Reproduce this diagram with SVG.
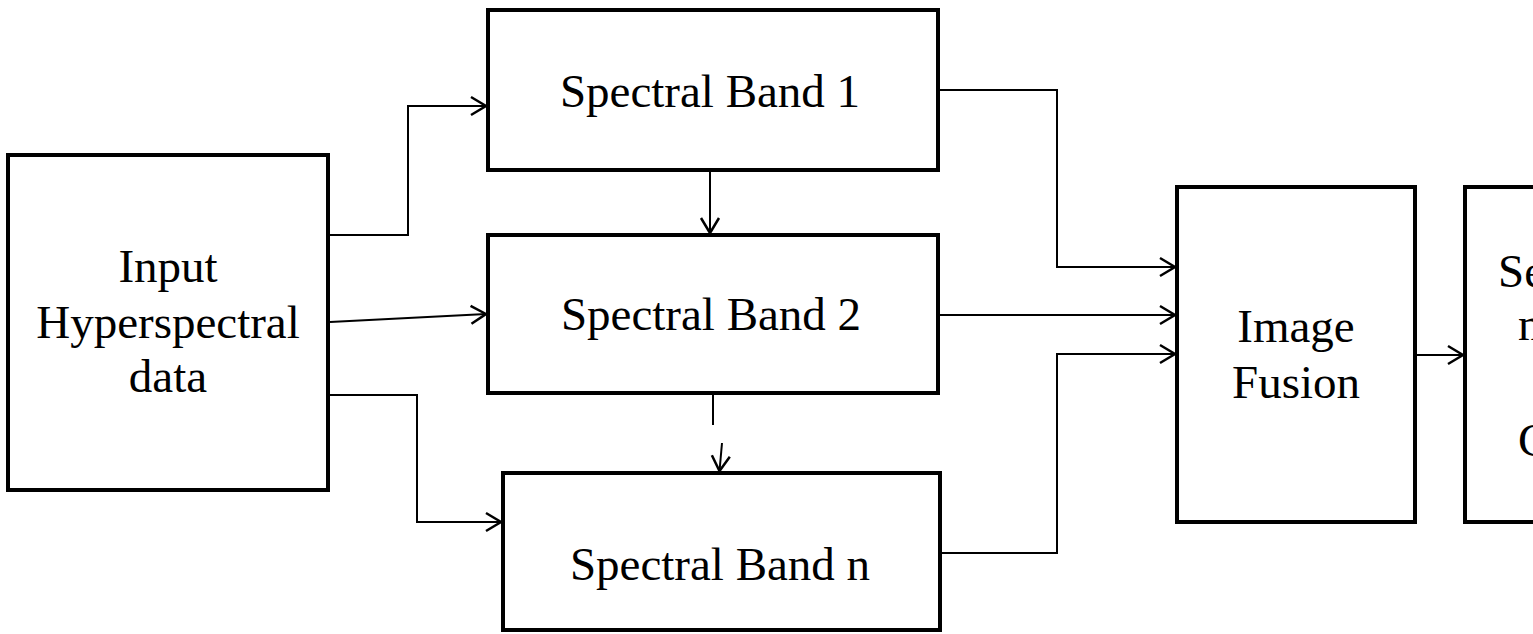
<svg xmlns="http://www.w3.org/2000/svg" width="1533" height="634" viewBox="0 0 1533 634">
<style>
.box{fill:#fff;stroke:#000;stroke-width:4;stroke-linejoin:miter}
.lbl{font-family:"Liberation Serif","Times New Roman",serif;font-size:47px;fill:#000;text-anchor:middle}
.c{fill:none;stroke:#000;stroke-width:2}
</style>
<defs>
<marker id="arr" viewBox="-17 -12 20 24" refX="0" refY="0" markerWidth="20" markerHeight="24" orient="auto" markerUnits="userSpaceOnUse">
<path d="M-15,-9 L0,0 L-15,9" fill="none" stroke="#000" stroke-width="2.5"/>
</marker>
</defs>
<rect width="1533" height="634" fill="#fff"/>
<g id="connectors">
<polyline class="c" points="330,235 408,235 408,106 486,106" marker-end="url(#arr)"/>
<line class="c" x1="330" y1="322" x2="486" y2="314" marker-end="url(#arr)"/>
<polyline class="c" points="330,395 417,395 417,522 501,522" marker-end="url(#arr)"/>
<line class="c" x1="710" y1="172" x2="710" y2="233" marker-end="url(#arr)"/>
<line class="c" x1="713" y1="395" x2="713" y2="425"/>
<line class="c" x1="722" y1="443" x2="719.5" y2="471" marker-end="url(#arr)"/>
<polyline class="c" points="940,90 1057,90 1057,267 1175,267" marker-end="url(#arr)"/>
<line class="c" x1="940" y1="315" x2="1175" y2="315" marker-end="url(#arr)"/>
<polyline class="c" points="942,553 1057,553 1057,354 1175,354" marker-end="url(#arr)"/>
<line class="c" x1="1417" y1="355" x2="1463" y2="355" marker-end="url(#arr)"/>
</g>
<g id="input">
<rect class="box" x="8" y="155" width="320" height="335"/>
<text class="lbl" x="168" y="282">Input</text>
<text class="lbl" x="168" y="338">Hyperspectral</text>
<text class="lbl" x="168" y="392">data</text>
</g>
<g id="band1">
<rect class="box" x="488" y="10" width="450" height="160"/>
<text class="lbl" x="710" y="107">Spectral Band 1</text>
</g>
<g id="band2">
<rect class="box" x="488" y="235" width="450" height="158"/>
<text class="lbl" x="711" y="330">Spectral Band 2</text>
</g>
<g id="bandn">
<rect class="box" x="503" y="473" width="437" height="157"/>
<text class="lbl" x="720" y="580">Spectral Band n</text>
</g>
<g id="fusion">
<rect class="box" x="1177" y="187" width="238" height="335"/>
<text class="lbl" x="1296" y="342">Image</text>
<text class="lbl" x="1296" y="398">Fusion</text>
</g>
<g id="output">
<rect class="box" x="1465" y="187" width="240" height="335"/>
<text class="lbl" x="1498" y="287" style="text-anchor:start">Se</text>
<text class="lbl" x="1518" y="340" style="text-anchor:start">m</text>
<text class="lbl" x="1518" y="456" style="text-anchor:start">C</text>
</g>
</svg>
